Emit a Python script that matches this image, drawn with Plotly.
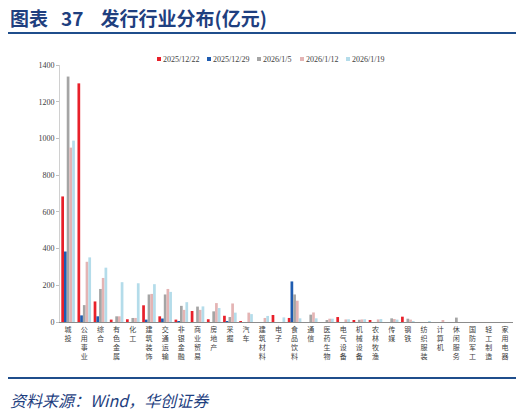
import plotly.graph_objects as go

industries = ["城投", "公用事业", "综合", "有色金属", "化工", "建筑装饰", "交通运输",
              "非银金融", "商业贸易", "房地产", "采掘", "汽车", "建筑材料", "电子",
              "食品饮料", "通信", "医药生物", "电气设备", "机械设备", "农林牧渔",
              "传媒", "钢铁", "纺织服装", "计算机", "休闲服务", "国防军工",
              "轻工制造", "家用电器"]

weeks = ["2025/12/22", "2025/12/29", "2026/1/5", "2026/1/12", "2026/1/19"]

w_1222 = [684, 1300, 112, 13, 15, 91, 31, 13, 60, 15, 34, 5, 0, 38,
          22, 0, 0, 27, 11, 6, 0, 29, 0, 0, 0, 0, 0, 0]
w_1229 = [384, 36, 31, 0, 0, 13, 19, 5, 0, 0, 5, 0, 0, 0,
          221, 0, 0, 0, 0, 0, 0, 0, 0, 0, 0, 0, 0, 0]
w_0105 = [1337, 92, 180, 31, 22, 150, 150, 88, 84, 58, 27, 0, 0, 0,
          150, 40, 9, 0, 12, 0, 20, 18, 0, 0, 24, 0, 0, 0]
w_0112 = [950, 328, 240, 31, 22, 153, 180, 66, 66, 103, 101, 51, 22, 0,
          116, 52, 18, 14, 14, 14, 16, 13, 0, 9, 0, 0, 0, 0]
w_0119 = [988, 352, 296, 217, 211, 206, 164, 108, 85, 76, 51, 43, 33, 25,
          20, 20, 18, 15, 15, 16, 13, 5, 3, 0, 0, 0, 0, 0]

series = [w_1222, w_1229, w_0105, w_0112, w_0119]
colors = ["#E8202A", "#1F5CB0", "#A5A5A5", "#E4B4B4", "#B4DCEA"]

navy = "#1F3F7F"
rule = "#1F4E8C"
serif = "Liberation Serif, Times New Roman, serif"
cjk = "Noto Sans CJK SC"

# the page puts the figure 8px in from the window corner
OFF = 8
W, H = 524, 413
ML, MR, MT, MB = 60 - OFF, 19, 65 - OFF, 99
PW, PH = W - ML - MR, H - MT - MB


def px_x(p):
    return (p - OFF - ML) / PW


def px_y(p):
    return (H - MB - (p - OFF)) / PH


# vertical labels: one character per line
vlabels = ["<br>".join(list(s)) for s in industries]

fig = go.Figure()
for name, vals, c in zip(weeks, series, colors):
    fig.add_trace(go.Bar(x=industries, y=vals, name=name, marker_color=c,
                         marker_line_width=0))

fig.update_layout(
    width=W, height=H,
    margin=dict(l=ML, r=MR, t=MT, b=MB, autoexpand=False),
    paper_bgcolor="white", plot_bgcolor="white",
    barmode="group", bargap=0.16, bargroupgap=0,
    showlegend=False,
    font=dict(family=cjk, color="#404040"),
)

fig.update_xaxes(
    tickmode="array", tickvals=industries, ticktext=vlabels,
    tickangle=0, tickfont=dict(family=cjk, size=7, color="#404040"),
    showline=True, linecolor="#8C8C8C", linewidth=1.2,
    ticks="", showgrid=False, automargin=False,
)
fig.update_yaxes(
    range=[0, 1400], dtick=200,
    tickfont=dict(family=serif, size=8, color="#404040"),
    showline=True, linecolor="#D0D0D0", linewidth=1,
    ticks="outside", ticklen=3, tickcolor="#C0C0C0",
    showgrid=False, zeroline=False, automargin=False,
)

# legend: small squares + labels
legend_px = [157, 207, 257, 300, 346]
for px, name, c in zip(legend_px, weeks, colors):
    fig.add_shape(type="rect", xref="paper", yref="paper",
                  x0=px_x(px), x1=px_x(px + 4), y0=px_y(61), y1=px_y(57),
                  line_width=0, fillcolor=c)
    fig.add_annotation(text=name, xref="paper", yref="paper", x=px_x(px + 4), y=px_y(59),
                       xanchor="left", yanchor="middle", showarrow=False,
                       font=dict(family=serif, size=8, color="#404040"))

# header and footer
fig.add_annotation(text="<b>图表\u00a0\u00a0\u00a037\u00a0\u00a0\u00a0\u00a0发行行业分布(亿元)</b>",
                   xref="paper", yref="paper",
                   x=px_x(8), y=px_y(17), xanchor="left", yanchor="middle", showarrow=False,
                   font=dict(family=cjk, size=19, color=navy))
fig.add_shape(type="line", xref="paper", yref="paper", x0=px_x(8), x1=px_x(518),
              y0=px_y(33), y1=px_y(33), line=dict(color=rule, width=2))
fig.add_shape(type="line", xref="paper", yref="paper", x0=px_x(8), x1=px_x(518),
              y0=px_y(378), y1=px_y(378), line=dict(color=rule, width=2))
fig.add_annotation(text="<i>资料来源：Wind，华创证券</i>", xref="paper", yref="paper",
                   x=px_x(8), y=px_y(400), xanchor="left", yanchor="middle", showarrow=False,
                   font=dict(family=cjk, size=16, color=navy))

fig.write_html("out.html")
